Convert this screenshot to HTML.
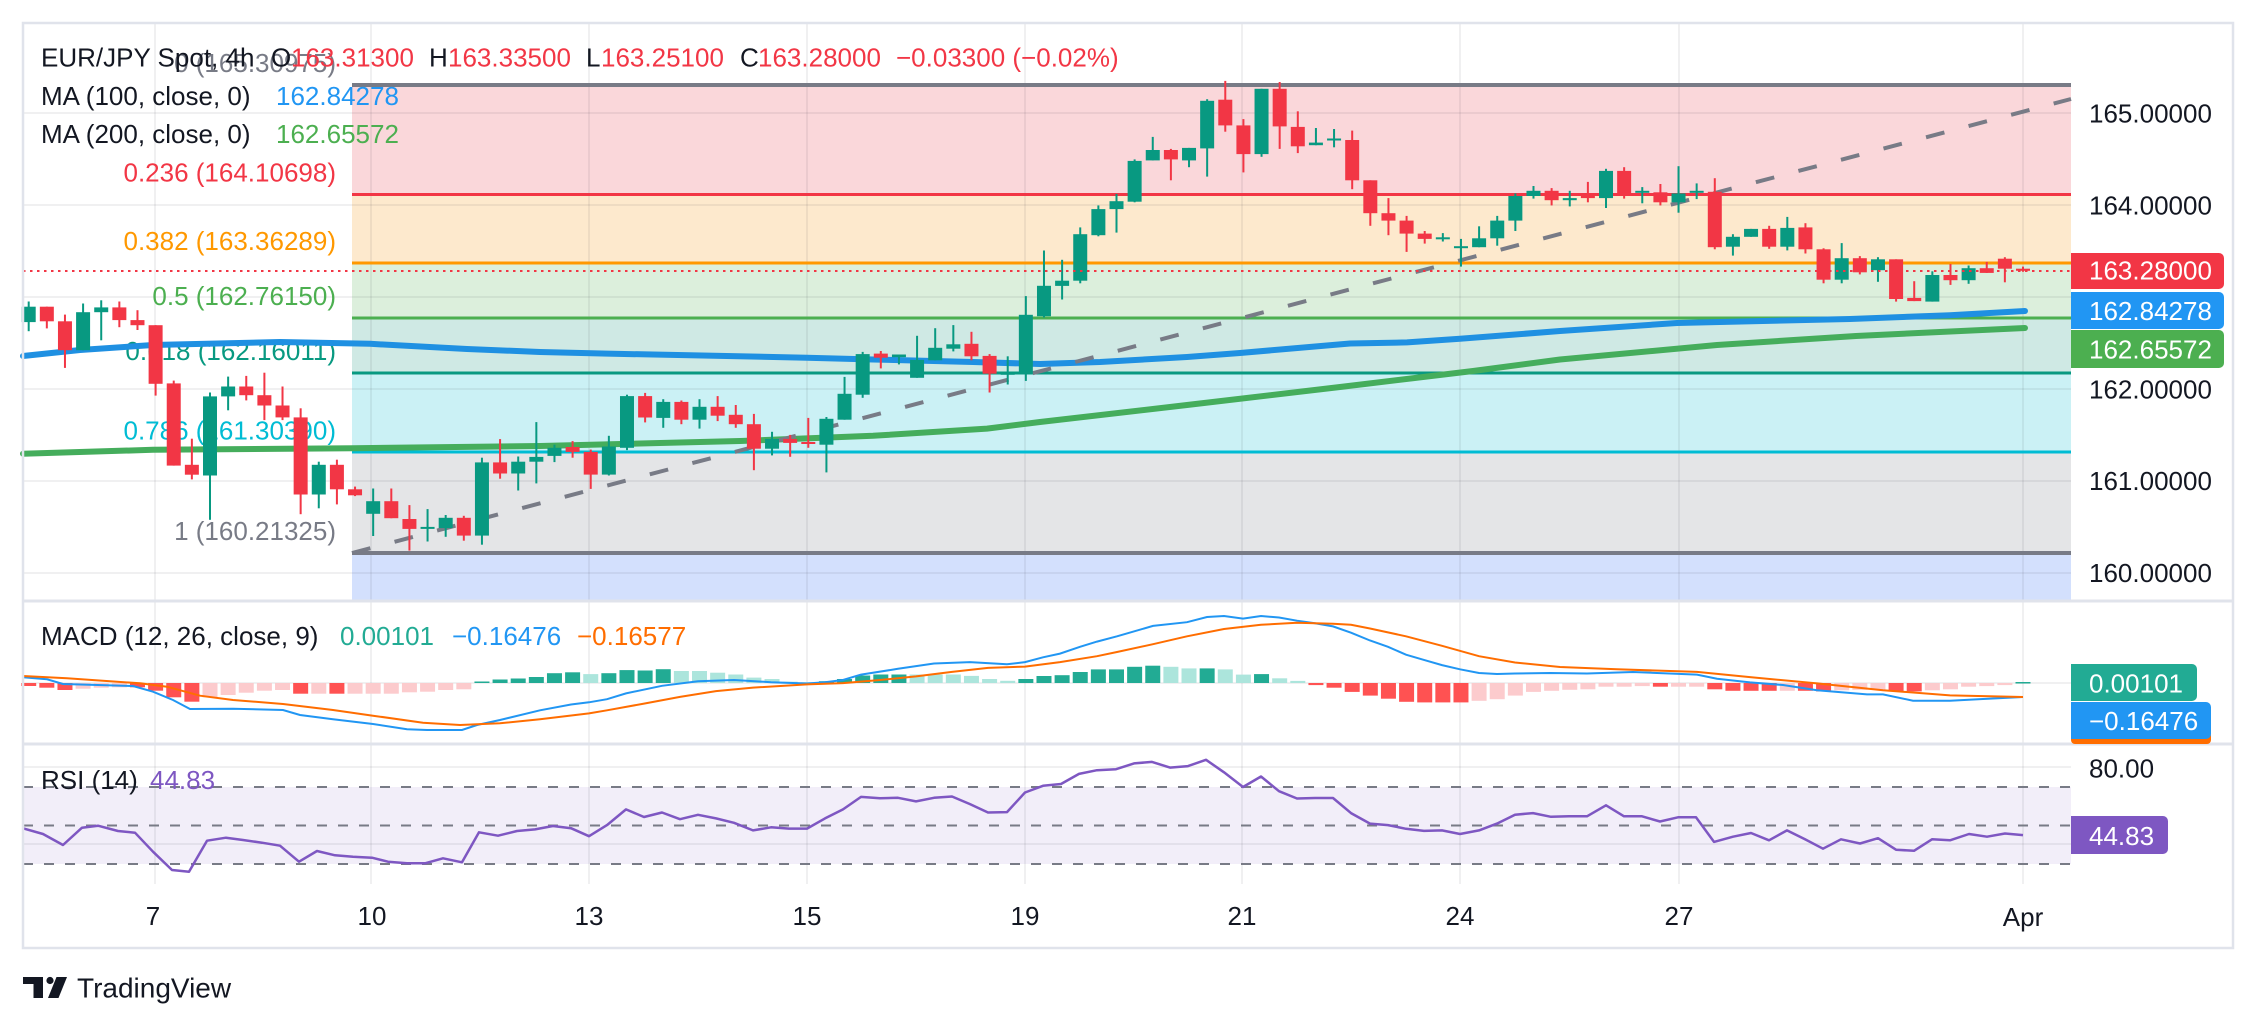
<!DOCTYPE html>
<html><head><meta charset="utf-8">
<style>
html,body{margin:0;padding:0;background:#fff;width:2256px;height:1027px;overflow:hidden}
svg{display:block}
text{font-family:"Liberation Sans",sans-serif;font-size:26px}
</style></head>
<body>
<svg id="s" width="2256" height="1027" viewBox="0 0 2256 1027" xmlns="http://www.w3.org/2000/svg">
<rect width="2256" height="1027" fill="#fff"/>
<!-- fib fills -->
<rect x="352" y="85" width="1719" height="109.5" fill="#fad7da"/>
<rect x="352" y="194.5" width="1719" height="68.5" fill="#fde9cd"/>
<rect x="352" y="263" width="1719" height="55" fill="#dcefdc"/>
<rect x="352" y="318" width="1719" height="55" fill="#cfe9e4"/>
<rect x="352" y="373" width="1719" height="79" fill="#cbf1f5"/>
<rect x="352" y="452" width="1719" height="101" fill="#e4e5e7"/>
<rect x="352" y="553" width="1719" height="47" fill="#d3e0fd"/>
<!-- RSI band -->
<rect x="23" y="787" width="2048" height="77" fill="#f2eef9"/>
<!-- grid -->
<g stroke="rgba(42,46,57,0.07)" stroke-width="2">
<line x1="23" y1="113" x2="2071" y2="113"/>
<line x1="23" y1="205" x2="2071" y2="205"/>
<line x1="23" y1="297" x2="2071" y2="297"/>
<line x1="23" y1="389" x2="2071" y2="389"/>
<line x1="23" y1="481" x2="2071" y2="481"/>
<line x1="23" y1="573" x2="2071" y2="573"/>
<line x1="23" y1="683" x2="2071" y2="683"/>
<line x1="23" y1="767" x2="2071" y2="767"/>
<line x1="23" y1="844" x2="2071" y2="844"/>
<line x1="155" y1="23" x2="155" y2="884"/>
<line x1="371" y1="23" x2="371" y2="884"/>
<line x1="589" y1="23" x2="589" y2="884"/>
<line x1="807" y1="23" x2="807" y2="884"/>
<line x1="1025" y1="23" x2="1025" y2="884"/>
<line x1="1242" y1="23" x2="1242" y2="884"/>
<line x1="1460" y1="23" x2="1460" y2="884"/>
<line x1="1679" y1="23" x2="1679" y2="884"/>
<line x1="2023" y1="23" x2="2023" y2="884"/>
</g>
<!-- RSI dashed -->
<g stroke="#787b86" stroke-width="2" stroke-dasharray="10 11">
<line x1="23" y1="787" x2="2071" y2="787"/>
<line x1="23" y1="825.5" x2="2071" y2="825.5"/>
<line x1="23" y1="864" x2="2071" y2="864"/>
</g>
<!-- fib lines -->
<line x1="352" y1="85" x2="2071" y2="85" stroke="#787b86" stroke-width="4"/>
<line x1="352" y1="194.5" x2="2071" y2="194.5" stroke="#f23645" stroke-width="3"/>
<line x1="352" y1="263" x2="2071" y2="263" stroke="#ff9800" stroke-width="3"/>
<line x1="352" y1="318" x2="2071" y2="318" stroke="#4caf50" stroke-width="3"/>
<line x1="352" y1="373" x2="2071" y2="373" stroke="#089981" stroke-width="3"/>
<line x1="352" y1="452" x2="2071" y2="452" stroke="#00bcd4" stroke-width="3"/>
<line x1="352" y1="553" x2="2071" y2="553" stroke="#787b86" stroke-width="4"/>
<!-- fib labels -->
<g text-anchor="end">
<text x="336" y="72" fill="#787b86">0 (165.30975)</text>
<text x="336" y="181.5" fill="#f23645">0.236 (164.10698)</text>
<text x="336" y="250" fill="#ff9800">0.382 (163.36289)</text>
<text x="336" y="305" fill="#4caf50">0.5 (162.76150)</text>
<text x="336" y="360" fill="#089981">0.618 (162.16011)</text>
<text x="336" y="439.5" fill="#00bcd4">0.786 (161.30390)</text>
<text x="336" y="540" fill="#787b86">1 (160.21325)</text>
</g>
<!-- MAs -->
<polyline fill="none" stroke="#45ad5c" stroke-width="6" stroke-linejoin="round" stroke-linecap="round" points="23,453.7 153,449.8 353,448.2 540,446 740,441 873,435.8 987,428.6 1040,422 1187,405 1340,387 1473,371 1560,359.5 1717,345 1856,336 2025,328"/>
<polyline fill="none" stroke="#1f90e2" stroke-width="6" stroke-linejoin="round" stroke-linecap="round" points="23,356 80,350 153,345 280,342 370,343.8 467,349 540,352 607,353.6 807,357.7 873,359.5 973,362 1040,364 1100,362 1187,357 1240,353 1350,343.5 1407,342.4 1460,338.8 1560,331 1677,323 1850,319 1950,315.2 2025,311"/>
<!-- trend dashed -->
<line x1="352" y1="553" x2="2071" y2="99" stroke="#787b86" stroke-width="4" stroke-dasharray="19 25"/>
<g id="cand"></g>
<!-- price dotted line -->
<line x1="23" y1="271" x2="2071" y2="271" stroke="#f23645" stroke-width="2" stroke-dasharray="2.5 4.5"/>
<!-- MACD -->
<g id="hist"></g>
<polyline fill="none" stroke="#2196f3" stroke-width="2" points="23,677.3 47,679.3 63,684 133,686 153,691.7 173,700 190,709 233,708.7 283,710 300,715 333,719.3 373,724 407,729.3 427,730 462,730 477,725 500,720 540,710.3 571,704.5 589,702.3 607,699.2 626,693.4 662,685.8 698,681.3 734,680 771,682.2 807,683.5 825,682.2 843,680 861,674.6 898,668.8 934,663.5 970,662.1 1007,664.3 1025,662.1 1043,657.3 1060,653.6 1080,646.8 1097,641.6 1117,636.3 1153,625.9 1187,622.2 1207,617 1224,616 1243,618.6 1261,616 1279,617.5 1297,620.7 1315,623.3 1333,626.4 1351,632.7 1370,640.5 1388,646.8 1406,654.7 1424,659.9 1442,665.1 1460,669.3 1479,673 1497,674 1515,673.5 1550,673 1587,673.5 1633,672 1697,674.6 1717,678.7 1750,682.4 1783,685 1817,690.2 1867,694.4 1883,694.4 1913,700.7 1950,700.7 1983,699 2023,697"/>
<polyline fill="none" stroke="#ff6d00" stroke-width="2" points="23,676 67,678.3 140,683.3 167,686.7 200,695.7 233,700 283,704 333,710 373,715.7 423,722.7 460,725 500,723.3 540,719.3 589,713.4 607,710.3 644,703.6 680,696.9 716,691.1 753,687.6 807,684.4 843,683.1 880,680 916,676.4 952,671.9 988,667.9 1025,666.6 1060,662.1 1097,656.2 1117,652 1153,644.2 1187,636.3 1224,629 1261,624.8 1297,622.7 1333,623.8 1351,624.8 1370,628.5 1406,636.3 1442,645.8 1479,656.2 1515,662.5 1560,667 1617,669.3 1697,671.9 1750,677.1 1817,683.4 1883,690.2 1950,695.4 2023,697"/>
<!-- RSI -->
<polyline fill="none" stroke="#7e57c2" stroke-width="2.5" stroke-linejoin="round" points="23,828.3 43,834 63,845 82,827.7 98,825.7 118,831 135,832.7 153,851.7 172,870 189,871.7 207,840.7 226,837.7 243,840 262,842.7 280,845.7 299,861.7 317,851 335,855.3 353,856.7 372,857.7 388,861.7 407,863.3 425,863.3 443,858.3 462,862.3 479,832.3 498,835.7 517,831 535,829.4 553,826 571,828.2 589,836.2 607,825.1 626,809.4 644,817 662,812.5 680,819.2 698,814.8 716,818.4 734,822.8 753,830.4 771,827.3 789,828.6 807,828.6 825,818.4 843,809.4 861,796.9 880,798.3 898,797.8 916,801.4 934,797.8 952,796.5 970,804.1 988,812.5 1007,812.1 1025,792.5 1043,785.8 1061,784 1079,773.9 1097,770.2 1116,769.2 1134,763.4 1152,761.9 1170,767.6 1188,766.1 1206,759.8 1224,772.3 1243,787 1261,776.5 1279,791.2 1297,798.5 1315,798 1333,798 1351,813.1 1370,823.6 1388,825.1 1406,828.8 1424,830.9 1442,830.4 1460,834 1479,830.4 1497,823.6 1515,814.7 1533,813.1 1551,816.8 1569,816.3 1587,816.3 1606,805.3 1624,816.3 1642,816.3 1660,821.5 1678,817.3 1696,817.3 1714,841.9 1733,836.7 1751,833 1769,840.3 1787,830.4 1805,839.3 1823,848.7 1841,839.3 1860,843.5 1878,838.2 1896,849.7 1914,850.8 1932,839.3 1950,840.3 1969,834 1987,836.7 2005,833.5 2023,835.1"/>
<!-- separators & borders -->
<g stroke="#e0e3eb" stroke-width="3" fill="none">
<line x1="23" y1="601" x2="2233" y2="601"/>
<line x1="23" y1="744" x2="2233" y2="744"/>
<rect x="23" y="23" width="2210" height="925" stroke-width="2.5"/>
</g>
<!-- legend -->
<text x="41" y="66.5" fill="#131722">EUR/JPY Spot, 4h</text>
<text x="271" y="66.5" fill="#131722">O</text><text x="291" y="66.5" fill="#f23645">163.31300</text>
<text x="429" y="66.5" fill="#131722">H</text><text x="448" y="66.5" fill="#f23645">163.33500</text>
<text x="586" y="66.5" fill="#131722">L</text><text x="601" y="66.5" fill="#f23645">163.25100</text>
<text x="740" y="66.5" fill="#131722">C</text><text x="758" y="66.5" fill="#f23645">163.28000</text>
<text x="896" y="66.5" fill="#f23645">−0.03300 (−0.02%)</text>
<text x="41" y="105" fill="#131722">MA (100, close, 0)</text><text x="276" y="105" fill="#2196f3">162.84278</text>
<text x="41" y="143" fill="#131722">MA (200, close, 0)</text><text x="276" y="143" fill="#4caf50">162.65572</text>
<text x="41" y="645" fill="#131722">MACD (12, 26, close, 9)</text>
<text x="340" y="645" fill="#22ab94">0.00101</text>
<text x="452" y="645" fill="#2196f3">−0.16476</text>
<text x="577" y="645" fill="#ff6d00">−0.16577</text>
<text x="41" y="789" fill="#131722">RSI (14)</text>
<text x="150" y="789" fill="#7e57c2">44.83</text>
<!-- price axis -->
<g fill="#131722">
<text x="2089" y="122.7">165.00000</text>
<text x="2089" y="214.7">164.00000</text>
<text x="2089" y="398.7">162.00000</text>
<text x="2089" y="490">161.00000</text>
<text x="2089" y="582">160.00000</text>
<text x="2089" y="777.7">80.00</text>
</g>
<rect x="2071" y="253" width="153" height="36" rx="5" fill="#f23645"/><rect x="2071" y="253" width="10" height="36" fill="#f23645"/>
<text x="2089" y="279.3" fill="#fff">163.28000</text>
<rect x="2071" y="292" width="153" height="37" rx="5" fill="#2196f3"/><rect x="2071" y="292" width="10" height="37" fill="#2196f3"/>
<text x="2089" y="320" fill="#fff">162.84278</text>
<rect x="2071" y="330" width="153" height="38" rx="5" fill="#4caf50"/><rect x="2071" y="330" width="10" height="38" fill="#4caf50"/>
<text x="2089" y="358.3" fill="#fff">162.65572</text>
<rect x="2071" y="732" width="140" height="12" rx="4" fill="#ff6d00"/>
<rect x="2071" y="664" width="126" height="37" rx="5" fill="#22ab94"/><rect x="2071" y="664" width="10" height="37" fill="#22ab94"/>
<text x="2089" y="692.3" fill="#fff">0.00101</text>
<rect x="2071" y="702" width="140" height="37" rx="5" fill="#2196f3"/><rect x="2071" y="702" width="10" height="37" fill="#2196f3"/>
<text x="2089" y="730" fill="#fff">−0.16476</text>
<rect x="2071" y="816" width="97" height="38" rx="5" fill="#7e57c2"/><rect x="2071" y="816" width="10" height="38" fill="#7e57c2"/>
<text x="2089" y="845" fill="#fff">44.83</text>
<!-- time axis -->
<g fill="#131722" text-anchor="middle">
<text x="153" y="925">7</text>
<text x="372" y="925">10</text>
<text x="589" y="925">13</text>
<text x="807" y="925">15</text>
<text x="1025" y="925">19</text>
<text x="1242" y="925">21</text>
<text x="1460" y="925">24</text>
<text x="1679" y="925">27</text>
<text x="2023" y="926">Apr</text>
</g>
<!-- logo -->
<g fill="#131722">
<rect x="23" y="977" width="20" height="7"/>
<rect x="33.5" y="977" width="9.5" height="21"/>
<circle cx="50" cy="980.5" r="3.6"/>
<polygon points="56.5,977 67,977 58.5,998 48,998"/>
<text x="77" y="997.7" style="font-size:28px">TradingView</text>
</g>
</svg>
<script>
var C=[
[1,306.7,322.1,301.5,331.2],[0,306.7,321.3,306.7,328.4],[0,321.3,350.2,314.6,367.9],[1,312.2,350.2,303.5,350.2],[1,307.4,312.2,300.3,340.3],
[0,307.4,320.1,301.5,327.2],[0,320.1,325.2,310.2,330.0],[0,325.2,383.8,325.2,395.6],[0,383.4,465.6,380.6,465.6],[0,464.8,474.7,438.7,479.4],
[1,396.4,475.5,392.5,519.8],[1,386.5,396.4,376.6,410.3],[0,386.5,395.2,375.9,400.4],[0,395.2,405.5,372.7,420.1],[0,405.5,417.4,386.5,420.1],
[0,417.4,494.5,408.3,514.2],[1,464.8,494.5,461.7,508.3],[0,464.8,489.3,459.7,504.4],[0,489.3,495.3,486.6,496.1],[1,501.2,513.8,488.5,536.0],
[0,501.2,518.2,488.5,518.2],[0,519.0,528.9,505.1,550.6],[1,526.9,528.1,509.1,541.5],[1,517.8,528.1,515.0,536.8],[0,517.8,535.6,515.8,540.7],
[1,462.4,535.6,457.7,544.7],[0,462.4,473.5,439.1,478.7],[1,461.7,473.5,456.5,490.5],[1,456.9,461.7,422.1,483.4],
[1,447.8,455.9,444.7,462.1],[0,447.0,451.9,441.1,457.7],[0,451.9,474.6,449.6,488.9],[1,446.5,474.6,435.8,475.5],[1,396.1,447.8,394.7,450.1],
[0,396.1,417.5,392.9,422.4],[1,401.9,417.9,399.2,427.8],[0,401.9,419.7,400.5,424.2],[1,406.8,419.7,399.2,428.6],[0,406.8,415.7,396.1,421.1],
[0,414.8,424.2,405.0,427.8],[0,424.2,448.7,413.9,470.2],[1,438.9,448.7,431.8,455.4],[0,438.9,442.9,434.9,456.8],[0,442.0,443.4,417.9,447.8],
[1,418.8,444.7,417.0,472.4],[1,393.8,419.7,376.9,419.7],[1,354.1,394.7,351.9,397.8],[0,353.6,357.7,351.0,368.4],[1,354.5,357.2,354.5,364.4],
[1,359.9,377.8,335.8,377.8],[1,347.8,360.3,328.2,360.3],[1,344.3,348.7,325.1,351.4],[0,343.8,356.3,331.8,360.3],[0,355.9,373.7,354.1,392.5],
[1,372.8,373.7,356.3,384.5],[1,314.8,373.3,296.1,380.9],[1,285.8,316.2,250.5,317.5],[1,280.7,285.9,259.8,299.5],[1,234.2,280.7,227.4,283.3],
[1,209.1,235.2,205.4,236.3],[1,201.2,209.1,193.9,232.6],[1,160.9,201.7,159.4,202.3],[1,150.0,160.4,136.9,160.4],[0,150.0,159.4,148.9,180.3],
[1,147.9,160.4,147.9,167.2],[1,100.8,148.4,99.2,176.6],[0,99.7,125.4,80.9,131.7],[0,125.4,154.1,119.1,172.4],[1,88.8,154.1,88.8,156.8],
[0,88.8,126.4,82.0,148.9],[0,126.9,146.3,111.3,153.1],[1,142.6,145.2,128.0,145.2],[1,138.5,140.0,129.0,147.3],[0,140.0,180.3,130.6,189.2],
[0,180.3,213.2,180.3,225.8],[0,213.2,220.6,198.1,235.2],[0,220.6,233.6,215.9,251.9],[0,233.6,238.9,231.0,243.6],[1,237.3,238.9,233.1,241.5],
[1,246.2,247.2,238.9,266.6],[1,238.3,247.2,226.3,247.2],[1,220.6,238.3,215.9,245.7],[1,196.0,220.6,193.4,231.0],[1,190.8,196.0,186.0,198.6],
[0,190.8,200.2,188.1,205.4],[1,198.1,200.2,190.8,206.4],[0,194.9,198.1,181.9,202.3],[1,170.9,198.1,168.8,208.0],[0,170.9,194.9,167.2,198.6],
[1,190.8,192.3,187.1,203.3],[0,192.3,202.3,184.0,205.4],[1,193.4,202.3,166.2,212.7],[1,190.8,192.8,183.4,199.1],[0,191.8,247.2,178.2,249.3],
[1,236.8,246.7,234.2,255.6],[1,228.9,236.8,228.9,236.8],[0,228.9,246.7,225.8,248.8],[1,227.9,246.7,216.9,250.4],[0,227.4,249.3,223.2,253.5],
[0,249.3,279.7,248.3,283.3],[1,258.2,279.7,243.1,283.3],[0,258.2,272.3,256.1,274.4],[1,259.3,270.2,257.2,281.8],[0,259.3,299.0,259.3,301.6],
[0,297.9,301.1,281.2,301.1],[1,275.0,301.6,271.3,301.6],[0,275.0,280.2,264.0,284.9],[1,268.2,280.2,265.5,283.8],[0,268.2,272.9,261.9,272.9],
[0,258.7,268.7,257.2,282.3],[0,268.7,270.8,266.6,271.8]
];
var H=[
[2,3],[2,4.7],[2,7],[3,5.7],[3,4.7],[3,4.3],[2,4.3],[2,7.7],[2,14.3],[2,18.7],
[3,14.3],[3,12],[3,9.7],[3,7.7],[3,7],[2,10.7],[3,10.7],[2,10.7],[3,10.7],[3,10.7],
[3,10.7],[3,9.3],[3,8.7],[3,7],[3,6.3],[0,-1.5],[0,-3.5],[0,-4.5],[0,-6],[0,-9.8],
[0,-10.7],[1,-8.9],[0,-9.8],[0,-12.9],[0,-12.5],[0,-13.8],[1,-12],[1,-12],[1,-10.3],[1,-8.5],
[1,-5.4],[1,-4],[1,-1.3],[1,-0.8],[0,-1.8],[0,-4],[0,-7.5],[0,-8.5],[0,-8.5],[1,-8.5],
[1,-8.5],[1,-8.5],[1,-7.1],[1,-4],[1,-2.2],[0,-4],[0,-7],[0,-7.8],[0,-11],[0,-13.6],
[0,-13.6],[0,-16.2],[0,-17.3],[1,-16.2],[1,-14.6],[0,-14.6],[1,-13.6],[1,-8.4],[0,-8.9],[1,-4.7],
[1,-2.1],[2,2.1],[2,4.7],[2,8.9],[2,12.6],[2,15.7],[2,18.8],[2,19.4],[2,19.4],[2,19.4],
[3,17.8],[3,16.2],[3,12.6],[3,8.9],[3,7.8],[3,6.8],[3,6.3],[3,3.7],[3,3.7],[3,3.1],
[2,3.7],[3,3.7],[3,3.7],[2,6.3],[2,7.8],[2,7.8],[2,7.8],[3,7.8],[2,7.8],[2,8.4],
[3,7.3],[3,6.8],[3,6.8],[2,8.4],[2,8.4],[3,7.3],[3,6.3],[3,3.7],[3,3.1],[3,2.1],
[0,-1]
];
var NS="http://www.w3.org/2000/svg";
function R(g,x,y,w,h,f){var r=document.createElementNS(NS,"rect");r.setAttribute("x",x);r.setAttribute("y",y);r.setAttribute("width",w);r.setAttribute("height",h);r.setAttribute("fill",f);g.appendChild(r);}
var gc=document.getElementById("cand"),gh=document.getElementById("hist");
for(var i=0;i<C.length;i++){var c=C[i],x=28.7+18.13*i,col=c[0]?"#089981":"#f23645";
R(gc,x-1,c[3],2,Math.max(c[4]-c[3],1),col);
R(gc,x-7,c[1],14,Math.max(c[2]-c[1],2),col);}
var HC=["#22ab94","#ace5dc","#ff5252","#fccbcd"];
for(var j=0;j<H.length;j++){var h=H[j],x2=28.7+18.13*j,v=h[1];
var y=v<0?683+v:683,hh=Math.max(Math.abs(v),1.5);
R(gh,x2-7.5,y,15,hh,HC[h[0]]);}
</script>
</body></html>
